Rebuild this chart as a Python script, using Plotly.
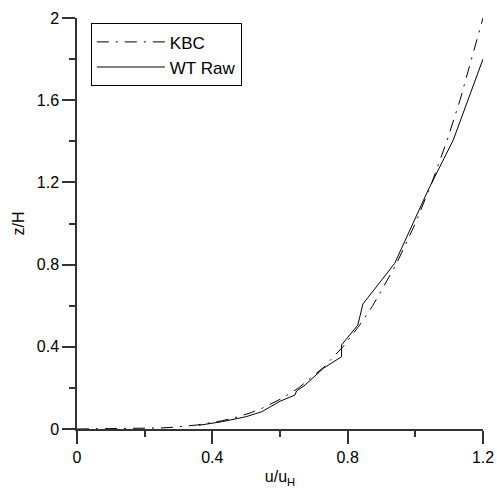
import plotly.graph_objects as go

# KBC profile (dash-dot)
kbc_u = [0.0, 0.163, 0.248, 0.298, 0.357, 0.429, 0.477, 0.515, 0.546, 0.607, 0.655,
         0.729, 0.786, 0.833, 0.874, 0.943, 1.0, 1.049, 1.093, 1.132, 1.167, 1.2]
kbc_z = [0.0, 0.001, 0.005, 0.01, 0.02, 0.04, 0.06, 0.08, 0.1, 0.15, 0.2,
         0.3, 0.4, 0.5, 0.6, 0.8, 1.0, 1.2, 1.4, 1.6, 1.8, 2.0]

# WT Raw profile (solid)
wt_u = [0.36, 0.43, 0.50, 0.546, 0.60, 0.644, 0.649, 0.674, 0.728, 0.782, 0.782,
        0.830, 0.845, 0.939, 1.038, 1.112, 1.2]
wt_z = [0.018, 0.036, 0.060, 0.084, 0.135, 0.165, 0.185, 0.214, 0.295, 0.352, 0.409,
        0.506, 0.608, 0.806, 1.163, 1.406, 1.8]

x_tick_step = 0.4
y_tick_step = 0.4
minor_step = 0.2

font_family = "Liberation Sans, Arial, sans-serif"
axis_color = "#333333"

fig = go.Figure()
fig.add_trace(go.Scatter(x=kbc_u, y=kbc_z, mode="lines", name="KBC",
                         line=dict(color="black", width=1, dash="12px,7px,2px,7px")))
fig.add_trace(go.Scatter(x=wt_u, y=wt_z, mode="lines", name="WT Raw",
                         line=dict(color="black", width=1)))

axis_common = dict(
    showline=True, linecolor=axis_color, linewidth=1.5, showgrid=False, zeroline=False,
    ticks="outside", ticklen=13, tickwidth=1.5, tickcolor=axis_color,
    tickfont=dict(family=font_family, size=16, color="black"),
    minor=dict(dtick=minor_step, tick0=0, ticks="outside", ticklen=6, tickwidth=1.5,
               tickcolor=axis_color, showgrid=False),
)

fig.update_xaxes(range=[0, 1.2], tickmode="linear", tick0=0, dtick=x_tick_step,
                 title=dict(text="u/u<sub>H</sub>", font=dict(family=font_family, size=16, color="black"),
                            standoff=6),
                 **axis_common)
fig.update_yaxes(range=[0, 2], tickmode="linear", tick0=0, dtick=y_tick_step,
                 title=dict(text="z/H", font=dict(family=font_family, size=16, color="black"),
                            standoff=8),
                 **axis_common)

fig.update_layout(
    template="none",
    width=497, height=493,
    margin=dict(l=77, r=14, t=18, b=64),
    plot_bgcolor="white", paper_bgcolor="white",
    font=dict(family=font_family, size=16, color="black"),
    legend=dict(x=0.034, y=0.987, xanchor="left", yanchor="top",
                bgcolor="white", bordercolor="black", borderwidth=1,
                itemwidth=68, font=dict(family=font_family, size=17, color="black"),
                tracegroupgap=0),
    showlegend=True,
)

fig.write_html("out.html")
